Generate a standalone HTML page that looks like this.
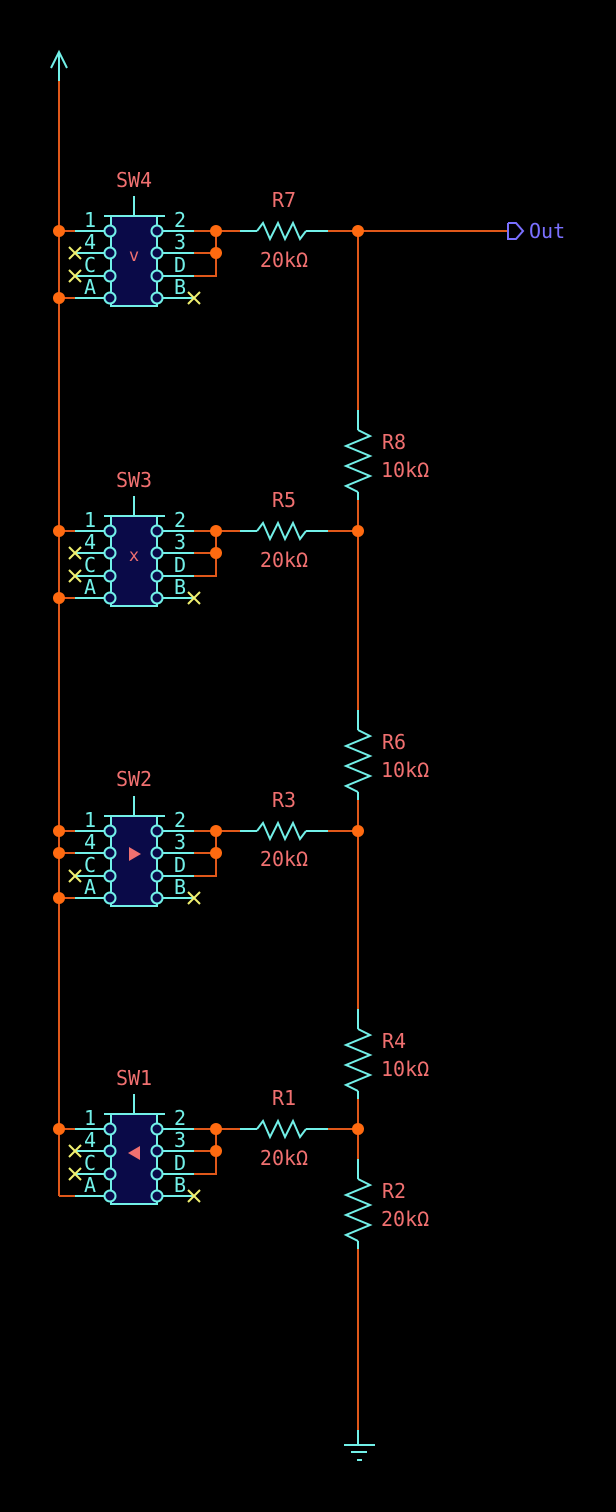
<!DOCTYPE html>
<html><head><meta charset="utf-8"><style>
html,body{margin:0;padding:0;background:#000;}
svg{display:block;}
text{font-family:"DejaVu Sans Mono","Liberation Mono",monospace;}
</style></head><body>
<svg width="616" height="1512" viewBox="0 0 616 1512" xmlns="http://www.w3.org/2000/svg">
<defs>
<g id="sw">
  <g stroke="#e0581a" stroke-width="2" fill="none">
    <line x1="59" y1="0" x2="75" y2="0"/>
    <line x1="194" y1="0" x2="240" y2="0"/>
    <line x1="194" y1="22" x2="216" y2="22"/>
    <polyline points="216,0 216,45 194,45"/>
    <line x1="328" y1="0" x2="358" y2="0"/>
  </g>
  <rect x="111" y="-15" width="46" height="90" fill="#0a0a48" stroke="#72f0e8" stroke-width="2"/>
  <g stroke="#72f0e8" stroke-width="2" fill="none">
    <line x1="134" y1="-35" x2="134" y2="-15"/>
    <line x1="104" y1="-15" x2="165" y2="-15"/>
    <line x1="75" y1="0" x2="105" y2="0"/>
    <line x1="75" y1="22" x2="105" y2="22"/>
    <line x1="75" y1="45" x2="105" y2="45"/>
    <line x1="75" y1="67" x2="105" y2="67"/>
    <line x1="162" y1="0" x2="194" y2="0"/>
    <line x1="162" y1="22" x2="194" y2="22"/>
    <line x1="162" y1="45" x2="194" y2="45"/>
    <line x1="162" y1="67" x2="194" y2="67"/>
    <circle cx="110" cy="0" r="5.5" fill="#0a0a48"/>
    <circle cx="110" cy="22" r="5.5" fill="#0a0a48"/>
    <circle cx="110" cy="45" r="5.5" fill="#0a0a48"/>
    <circle cx="110" cy="67" r="5.5" fill="#0a0a48"/>
    <circle cx="157" cy="0" r="5.5" fill="#0a0a48"/>
    <circle cx="157" cy="22" r="5.5" fill="#0a0a48"/>
    <circle cx="157" cy="45" r="5.5" fill="#0a0a48"/>
    <circle cx="157" cy="67" r="5.5" fill="#0a0a48"/>
    <line x1="240" y1="0" x2="257" y2="0"/>
    <polyline points="257,0 263,-8 270,8 278,-8 285,8 293,-8 300,8 306,0"/>
    <line x1="306" y1="0" x2="328" y2="0"/>
  </g>
  <g fill="#ff6a10">
    <circle cx="59" cy="0" r="6"/>
    <circle cx="216" cy="0" r="6"/>
    <circle cx="216" cy="22" r="6"/>
    <circle cx="358" cy="0" r="6"/>
  </g>
  <g stroke="#f0f070" stroke-width="2">
    <line x1="188" y1="61" x2="200" y2="73"/><line x1="200" y1="61" x2="188" y2="73"/>
  </g>
  <g fill="#72f0e8" font-size="20" text-anchor="middle">
    <text x="90" y="-4">1</text>
    <text x="90" y="18">4</text>
    <text x="90" y="41">C</text>
    <text x="90" y="63">A</text>
    <text x="180" y="-4">2</text>
    <text x="180" y="18">3</text>
    <text x="180" y="41">D</text>
    <text x="180" y="63">B</text>
  </g>
</g>
<g id="xl" stroke="#f0f070" stroke-width="2">
  <line x1="-6" y1="-6" x2="6" y2="6"/><line x1="6" y1="-6" x2="-6" y2="6"/>
</g>
<g id="vr">
  <g stroke="#72f0e8" stroke-width="2" fill="none">
    <line x1="358" y1="0" x2="358" y2="20"/>
    <polyline points="358,20 370,26 346,36 370,46 346,56 370,66 346,76 358,82"/>
    <line x1="358" y1="82" x2="358" y2="90"/>
  </g>
</g>
</defs>

<line x1="59" y1="81" x2="59" y2="1196" stroke="#e0581a" stroke-width="2"/>
<line x1="59" y1="1196" x2="75" y2="1196" stroke="#e0581a" stroke-width="2"/>
<g stroke="#72f0e8" stroke-width="2" fill="none">
  <line x1="59" y1="52" x2="59" y2="81"/>
  <polyline points="51,68 59,52 67,68"/>
</g>

<line x1="358" y1="231" x2="358" y2="1430" stroke="#e0581a" stroke-width="2"/>
<rect x="340" y="411" width="36" height="88" fill="#000"/>
<rect x="340" y="711" width="36" height="88" fill="#000"/>
<rect x="340" y="1010" width="36" height="88" fill="#000"/>
<rect x="340" y="1160" width="36" height="88" fill="#000"/>
<use href="#vr" transform="translate(0,410)"/>
<use href="#vr" transform="translate(0,710)"/>
<use href="#vr" transform="translate(0,1009)"/>
<use href="#vr" transform="translate(0,1159)"/>

<g stroke="#72f0e8" stroke-width="2">
  <line x1="358" y1="1430" x2="358" y2="1445"/>
  <line x1="344" y1="1445" x2="375" y2="1445"/>
  <line x1="351" y1="1452" x2="367" y2="1452"/>
  <line x1="357" y1="1460" x2="362" y2="1460"/>
</g>

<line x1="358" y1="231" x2="508" y2="231" stroke="#e0581a" stroke-width="2"/>
<polyline points="508,223 516,223 523,231 516,239 508,239 508,223" stroke="#7a70ff" stroke-width="2" fill="none"/>
<text x="529" y="238" fill="#7a70ff" font-size="20">Out</text>

<use href="#sw" transform="translate(0,231)"/>
<use href="#sw" transform="translate(0,531)"/>
<use href="#sw" transform="translate(0,831)"/>
<use href="#sw" transform="translate(0,1129)"/>

<g stroke="#e0581a" stroke-width="2">
  <line x1="59" y1="298" x2="75" y2="298"/>
  <line x1="59" y1="598" x2="75" y2="598"/>
  <line x1="59" y1="853" x2="75" y2="853"/>
  <line x1="59" y1="898" x2="75" y2="898"/>
</g>
<g fill="#ff6a10">
  <circle cx="59" cy="298" r="6"/>
  <circle cx="59" cy="598" r="6"/>
  <circle cx="59" cy="853" r="6"/>
  <circle cx="59" cy="898" r="6"/>
</g>
<use href="#xl" transform="translate(75,253)"/>
<use href="#xl" transform="translate(75,276)"/>
<use href="#xl" transform="translate(75,553)"/>
<use href="#xl" transform="translate(75,576)"/>
<use href="#xl" transform="translate(75,876)"/>
<use href="#xl" transform="translate(75,1151)"/>
<use href="#xl" transform="translate(75,1174)"/>

<text x="134" y="261" fill="#f07070" font-size="17" text-anchor="middle">v</text>
<text x="134" y="561" fill="#f07070" font-size="17" text-anchor="middle">x</text>
<polygon points="129,847 141,854 129,861" fill="#f07070"/>
<polygon points="140,1146 128,1153 140,1160" fill="#f07070"/>

<g fill="#f07070" font-size="20" text-anchor="middle">
  <text x="134" y="187">SW4</text>
  <text x="134" y="487">SW3</text>
  <text x="134" y="786">SW2</text>
  <text x="134" y="1085">SW1</text>
  <text x="284" y="207">R7</text>
  <text x="284" y="267">20kΩ</text>
  <text x="284" y="507">R5</text>
  <text x="284" y="567">20kΩ</text>
  <text x="284" y="807">R3</text>
  <text x="284" y="866">20kΩ</text>
  <text x="284" y="1105">R1</text>
  <text x="284" y="1165">20kΩ</text>
</g>
<g fill="#f07070" font-size="20">
  <text x="382" y="449">R8</text>
  <text x="381" y="477">10kΩ</text>
  <text x="382" y="749">R6</text>
  <text x="381" y="777">10kΩ</text>
  <text x="382" y="1048">R4</text>
  <text x="381" y="1076">10kΩ</text>
  <text x="382" y="1198">R2</text>
  <text x="381" y="1226">20kΩ</text>
</g>
</svg>
</body></html>
